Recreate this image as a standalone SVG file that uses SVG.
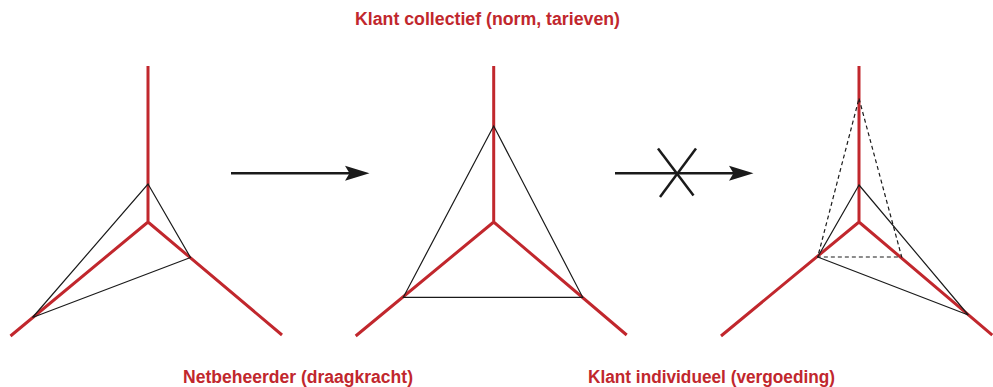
<svg xmlns="http://www.w3.org/2000/svg" width="993" height="387" viewBox="0 0 993 387">
<style>
.red{fill:none;stroke:#c1272d;stroke-width:3;stroke-linecap:butt;stroke-linejoin:miter}
.tri{fill:none;stroke:#1a1a1a;stroke-width:1.2;stroke-linejoin:miter}
.dash{fill:none;stroke:#1a1a1a;stroke-width:1.2;stroke-dasharray:4 3}
.arr{fill:none;stroke:#1a1a1a;stroke-width:2.5}
.head{fill:#1a1a1a}
.lbl{font-family:"Liberation Sans",Arial,sans-serif;font-weight:bold;font-size:17.5px;fill:#c1272d}
</style>
<rect width="993" height="387" fill="#ffffff"/>
<g id="diagram1">
<path class="red" d="M148,66 V222 M10.5,336 L148,222 L282,335"/>
<path class="tri" d="M148,184 L190.5,257.5 L32.5,317.5 Z"/>
</g>
<g id="diagram2">
<path class="red" d="M493.7,66 V222 M355.7,336 L493.7,222 L626.7,335"/>
<path class="tri" d="M493.7,126 L582.7,297.3 L403.3,297.3 Z"/>
</g>
<g id="diagram3">
<path class="red" d="M859,66 V222 M721,336 L859,222 L992.3,335"/>
<path class="dash" d="M859,98.5 L901.7,257 L817.7,257 Z"/>
<path class="tri" d="M859,185 L968.3,315 L817.7,257 Z"/>
</g>
<g id="connectors">
<g id="arrow1">
<line class="arr" x1="231" y1="173.3" x2="350" y2="173.3"/>
<path class="head" d="M369.5,173.3 L345,165.8 L349.5,173.3 L345,180.8 Z"/>
</g>
<g id="arrow2">
<line class="arr" x1="615" y1="173.3" x2="734" y2="173.3"/>
<path class="head" d="M753.5,173.3 L729,165.8 L733.5,173.3 L729,180.8 Z"/>
<line class="arr" x1="658" y1="148.5" x2="693.5" y2="195.5"/>
<line class="arr" x1="696" y1="148.5" x2="660" y2="197"/>
</g>
</g>
<g id="labels">
<text class="lbl" x="355" y="25" textLength="265" lengthAdjust="spacingAndGlyphs">Klant collectief (norm, tarieven)</text>
<text class="lbl" x="183" y="383" textLength="230" lengthAdjust="spacingAndGlyphs">Netbeheerder (draagkracht)</text>
<text class="lbl" x="588" y="383" textLength="247" lengthAdjust="spacingAndGlyphs">Klant individueel (vergoeding)</text>
</g>
</svg>
